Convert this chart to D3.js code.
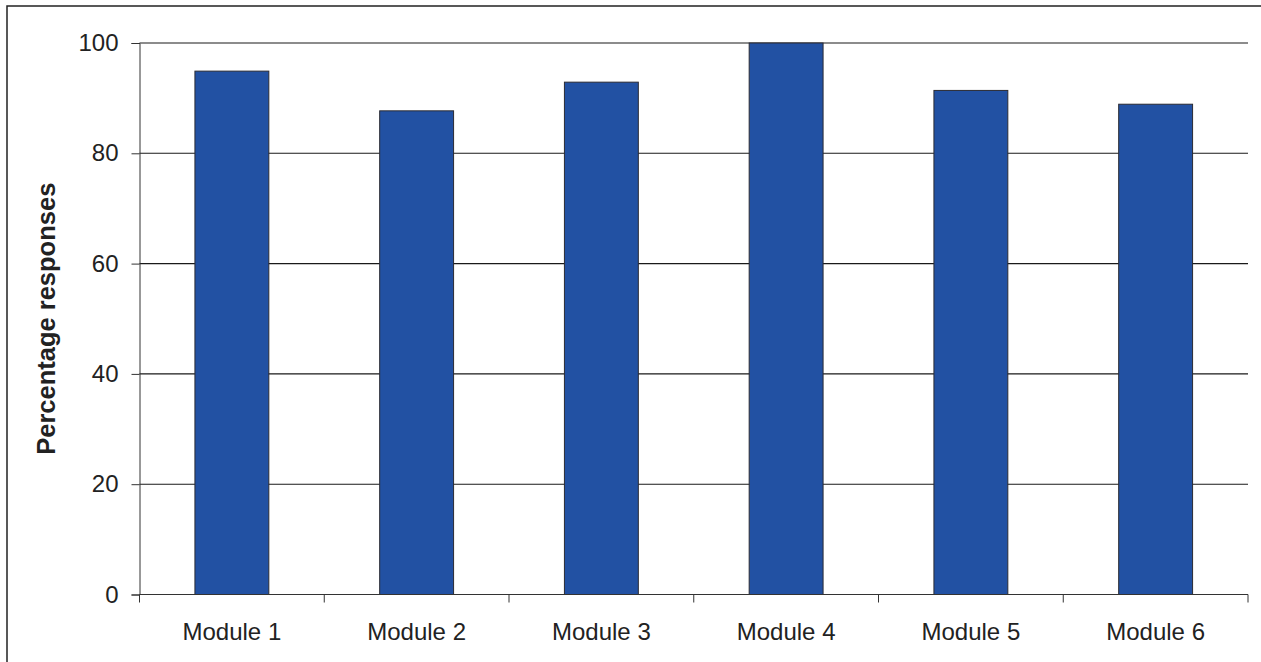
<!doctype html>
<html>
<head>
    <script src="https://d3js.org/d3.v7.min.js"></script>
</head>
<style>
    body { margin: 0; background: #fff; }
    svg text {
        font-family: Arial, "Liberation Sans", sans-serif;
        fill: #222;
    }
</style>
<body>
<script>
    var categories = ["Module 1", "Module 2", "Module 3", "Module 4", "Module 5", "Module 6"];
    var values = [94.9, 87.7, 92.9, 100, 91.4, 88.9];
    var yTicks = [0, 20, 40, 60, 80, 100];

    var width = 1261, height = 662;
    var plotLeft = 139.5, plotRight = 1248, plotTop = 43, plotBottom = 594.5;

    var svg = d3.select("body").append("svg")
        .attr("width", width)
        .attr("height", height);

    // outer frame
    svg.append("rect")
        .attr("x", 7).attr("y", 6)
        .attr("width", 1262).attr("height", 670)
        .attr("fill", "none")
        .attr("stroke", "#222")
        .attr("stroke-width", 1.5);

    var band = d3.scaleBand().domain(categories).range([plotLeft, plotRight]);
    var y = d3.scaleLinear().domain([0, 100]).range([plotBottom, plotTop]);

    // gridlines
    svg.selectAll("line.grid")
        .data(yTicks.filter(function(d) { return d > 0; }))
        .enter().append("line")
        .attr("x1", plotLeft).attr("x2", plotRight)
        .attr("y1", function(d) { return y(d); })
        .attr("y2", function(d) { return y(d); })
        .attr("stroke", "#1a1a1a")
        .attr("stroke-width", 1.1);

    // bars
    svg.selectAll("rect.bar")
        .data(values)
        .enter().append("rect")
        .attr("x", function(d, i) { return band(categories[i]) + band.bandwidth() * 0.3; })
        .attr("width", band.bandwidth() * 0.4)
        .attr("y", function(d) { return y(d); })
        .attr("height", function(d) { return plotBottom - y(d); })
        .attr("fill", "#2251a3")
        .attr("stroke", "#2b2b33")
        .attr("stroke-width", 1);

    // y axis
    var yAxis = svg.append("g")
        .attr("transform", "translate(" + plotLeft + ",0)")
        .call(d3.axisLeft(y).tickValues(yTicks).tickSize(8).tickPadding(13));
    yAxis.select(".domain").attr("stroke", "#333");
    yAxis.selectAll(".tick line").attr("stroke", "#333");
    yAxis.selectAll("text").style("font-size", "24px").attr("fill", "#222");

    // x axis: ticks at category boundaries
    var bounds = categories.map(function(c) { return band(c); }).concat([plotRight]);
    svg.append("line")
        .attr("x1", plotLeft).attr("x2", plotRight)
        .attr("y1", plotBottom).attr("y2", plotBottom)
        .attr("stroke", "#333").attr("stroke-width", 1.2);
    svg.selectAll("line.xtick")
        .data(bounds)
        .enter().append("line")
        .attr("x1", function(d) { return d; })
        .attr("x2", function(d) { return d; })
        .attr("y1", plotBottom).attr("y2", plotBottom + 8)
        .attr("stroke", "#333");
    svg.selectAll("text.xlab")
        .data(categories)
        .enter().append("text")
        .attr("x", function(d) { return band(d) + band.bandwidth() / 2; })
        .attr("y", 640)
        .attr("text-anchor", "middle")
        .style("font-size", "24px")
        .text(function(d) { return d; });

    // y label
    svg.append("text")
        .attr("transform", "translate(55," + ((plotTop + plotBottom) / 2) + ") rotate(-90)")
        .attr("text-anchor", "middle")
        .style("font-size", "25.5px")
        .style("font-weight", "bold")
        .text("Percentage responses");
</script>
</body>
</html>
